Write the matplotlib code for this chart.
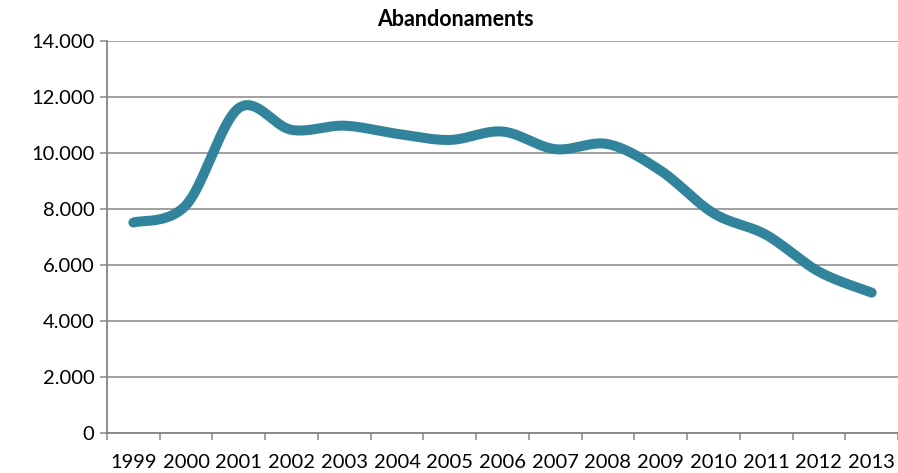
import matplotlib
matplotlib.use("Agg")
import matplotlib.pyplot as plt
from matplotlib.ticker import FuncFormatter, MultipleLocator, FixedLocator
import numpy as np

years = ["1999", "2000", "2001", "2002", "2003", "2004", "2005", "2006",
         "2007", "2008", "2009", "2010", "2011", "2012", "2013"]
abandonaments = [7525, 8150, 11620, 10840, 10990, 10700, 10480, 10780,
                 10150, 10330, 9380, 7860, 7085, 5770, 5020]

plt.rcParams['font.family'] = ['Lato', 'DejaVu Sans']


def smooth(xs, ys, n=40):
    # Catmull-Rom style Bezier smoothing (like a spreadsheet "smoothed line")
    xs = np.asarray(xs, float)
    ys = np.asarray(ys, float)
    px = np.concatenate([[xs[0]], xs, [xs[-1]]])
    py = np.concatenate([[ys[0]], ys, [ys[-1]]])
    outx, outy = [], []
    t = np.linspace(0, 1, n)
    for i in range(1, len(px) - 2):
        p0 = np.array([px[i], py[i]])
        p3 = np.array([px[i + 1], py[i + 1]])
        c1 = p0 + (np.array([px[i + 1], py[i + 1]]) - np.array([px[i - 1], py[i - 1]])) / 6
        c2 = p3 - (np.array([px[i + 2], py[i + 2]]) - np.array([px[i], py[i]])) / 6
        b = ((1 - t) ** 3)[:, None] * p0 + (3 * (1 - t) ** 2 * t)[:, None] * c1 \
            + (3 * (1 - t) * t ** 2)[:, None] * c2 + (t ** 3)[:, None] * p3
        outx.extend(b[:, 0])
        outy.extend(b[:, 1])
    return np.array(outx), np.array(outy)


fig = plt.figure(figsize=(8.98, 4.73), dpi=100)
ax = fig.add_axes([107 / 898, 1 - 433 / 473, 1 - 107 / 898, (433 - 41.5) / 473])

x = np.arange(len(years))
sx, sy = smooth(x, abandonaments)
ax.plot(sx, sy, color='#31849B', lw=7.2, solid_capstyle='round', zorder=3)

ax.set_xlim(-0.5, len(years) - 0.5)
ax.set_ylim(0, 14000)

grid_c = '#868686'
ax.yaxis.set_major_locator(MultipleLocator(2000))
ax.yaxis.set_major_formatter(FuncFormatter(lambda v, p: f"{int(v):,}".replace(",", ".")))
ax.grid(axis='y', color=grid_c, lw=1.1, zorder=1)
ax.set_axisbelow(True)

ax.set_xticks(x)
ax.set_xticklabels(years)
ax.xaxis.set_minor_locator(FixedLocator(np.arange(-0.5, len(years), 1.0)))
ax.tick_params(axis='x', which='major', length=0, pad=15, labelsize=14.5)
ax.tick_params(axis='x', which='minor', length=5, width=1.1, color=grid_c, direction='out')
ax.tick_params(axis='y', length=5, width=1.1, color=grid_c, labelsize=14.5, pad=4)

for side in ['top', 'right']:
    ax.spines[side].set_visible(False)
for side in ['left', 'bottom']:
    ax.spines[side].set_color(grid_c)
    ax.spines[side].set_linewidth(1.3)

fig.text(455 / 898, 1 - 19 / 473, "Abandonaments", ha='center', va='center',
         fontsize=15.5, fontweight='bold')

fig.savefig("out.png", dpi=100)
